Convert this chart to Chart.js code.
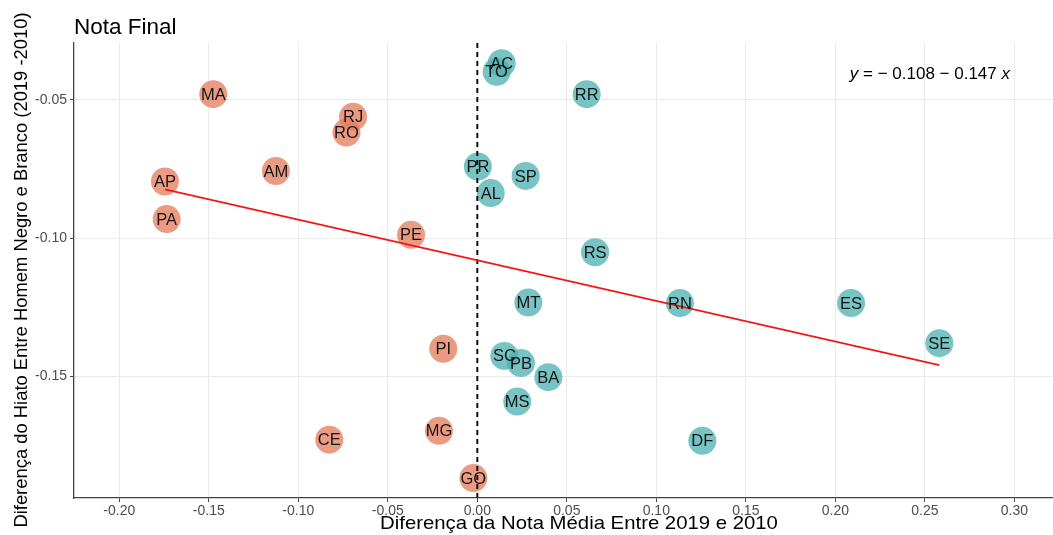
<!DOCTYPE html>
<html>
<head>
<meta charset="utf-8">
<script src="https://cdn.jsdelivr.net/npm/chart.js@4.4.1/dist/chart.umd.min.js"></script>
<style>
  html, body { margin: 0; padding: 0; background: #ffffff; }
  canvas { display: block; }
</style>
</head>
<body>
<canvas id="chart" width="1053" height="535"></canvas>
<script>
// State codes and their values
const states = ['AC','TO','RR','MA','RJ','RO','AM','AP','PA','PR','SP','AL','PE','RS',
                'MT','RN','ES','SE','PI','SC','PB','BA','MS','MG','CE','GO','DF'];
// Difference in mean score between 2019 and 2010
const scoreDiff = [0.0136, 0.0108, 0.0611, -0.1475, -0.0694, -0.0731, -0.1125, -0.1745, -0.1735,
                   0.0003, 0.0270, 0.0075, -0.0370, 0.0658, 0.0285, 0.1132, 0.2088, 0.2581,
                   -0.0190, 0.0151, 0.0244, 0.0397, 0.0223, -0.0214, -0.0827, -0.0022, 0.1257];
// Difference in the Black/White male gap (2019 - 2010)
const gapDiff = [-0.0367, -0.0398, -0.0479, -0.0479, -0.0561, -0.0618, -0.0757, -0.0795, -0.0931,
                 -0.0741, -0.0775, -0.0837, -0.0988, -0.1051, -0.1233, -0.1235, -0.1235, -0.1380,
                 -0.1400, -0.1426, -0.1452, -0.1503, -0.1591, -0.1697, -0.1729, -0.1868, -0.1733];

// Fitted line coefficients
const intercept = -0.108;
const slope = -0.147;

// Axis tick values
const xTicks = [-0.20, -0.15, -0.10, -0.05, 0.00, 0.05, 0.10, 0.15, 0.20, 0.25, 0.30];
const yTicks = [-0.05, -0.10, -0.15];

const X_MIN = -0.2253, X_MAX = 0.3216;
const Y_MIN = -0.1940, Y_MAX = -0.0294;

const FONT = '"Liberation Sans", Arial, Helvetica, sans-serif';
const ORANGE = 'rgba(230, 124, 92, 0.76)';
const TEAL = 'rgba(78, 176, 176, 0.76)';

const points = states.map((s, i) => ({ x: scoreDiff[i], y: gapDiff[i] }));
const pointColors = scoreDiff.map(v => (v < 0 ? ORANGE : TEAL));

const xLo = Math.min(...scoreDiff), xHi = Math.max(...scoreDiff);
const fitLine = [
  { x: xLo, y: intercept + slope * xLo },
  { x: xHi, y: intercept + slope * xHi }
];
const zeroLine = [{ x: 0, y: Y_MAX }, { x: 0, y: Y_MIN }];

// Text drawn on top: point labels, title, axis titles and the fit equation
const textPlugin = {
  id: 'textPlugin',
  afterDatasetsDraw(chart) {
    const ctx = chart.ctx;
    const meta = chart.getDatasetMeta(2);
    ctx.save();
    ctx.font = '16.5px ' + FONT;
    ctx.fillStyle = '#151515';
    ctx.textAlign = 'center';
    ctx.textBaseline = 'middle';
    meta.data.forEach((el, i) => {
      ctx.fillText(states[i], el.x, el.y + 1);
    });
    ctx.restore();
  },
  afterDraw(chart) {
    const ctx = chart.ctx;
    ctx.save();
    ctx.fillStyle = '#000';
    ctx.textBaseline = 'alphabetic';

    ctx.font = '22.5px ' + FONT;
    ctx.textAlign = 'left';
    ctx.fillText('Nota Final', 74, 34);

    ctx.save();
    ctx.translate(579, 529);
    ctx.scale(1.07, 1);
    ctx.font = '19px ' + FONT;
    ctx.textAlign = 'center';
    ctx.fillText('Diferença da Nota Média Entre 2019 e 2010', 0, 0);
    ctx.restore();

    ctx.save();
    ctx.translate(27, 270);
    ctx.rotate(-Math.PI / 2);
    ctx.font = '18.4px ' + FONT;
    ctx.textAlign = 'center';
    ctx.fillText('Diferença do Hiato Entre Homem Negro e Branco (2019 -2010)', 0, 0);
    ctx.restore();

    // Regression equation
    const parts = [
      { t: 'y', f: 'italic 17px ' + FONT },
      { t: ' = \u2212 ' + Math.abs(intercept).toFixed(3) + ' \u2212 ' + Math.abs(slope).toFixed(3) + ' ', f: '17px ' + FONT },
      { t: 'x', f: 'italic 17px ' + FONT }
    ];
    let total = 0;
    parts.forEach(p => { ctx.font = p.f; p.w = ctx.measureText(p.t).width; total += p.w; });
    let cx = 1010 - total;
    ctx.textAlign = 'left';
    parts.forEach(p => { ctx.font = p.f; ctx.fillText(p.t, cx, 79); cx += p.w; });
    ctx.restore();
  }
};

new Chart(document.getElementById('chart'), {
  type: 'scatter',
  data: {
    datasets: [
      {
        type: 'line',
        data: zeroLine,
        borderColor: '#111',
        borderWidth: 2,
        borderDash: [5, 4],
        pointRadius: 0,
        fill: false,
        order: 1
      },
      {
        type: 'line',
        data: fitLine,
        borderColor: '#F01818',
        borderWidth: 1.6,
        pointRadius: 0,
        fill: false,
        order: 0
      },
      {
        data: points,
        backgroundColor: pointColors,
        borderWidth: 0,
        pointRadius: 14,
        pointHoverRadius: 14,
        order: 2
      }
    ]
  },
  options: {
    responsive: false,
    devicePixelRatio: 1,
    animation: false,
    layout: { autoPadding: false, padding: { top: 43, right: 0, bottom: 0, left: 0 } },
    plugins: {
      legend: { display: false },
      tooltip: { enabled: false },
      title: { display: false }
    },
    scales: {
      x: {
        type: 'linear',
        min: X_MIN,
        max: X_MAX,
        afterBuildTicks: s => { s.ticks = xTicks.map(v => ({ value: v })); },
        afterFit: s => { s.height = 37; s.paddingLeft = 0; s.paddingRight = 0; },
        grid: { color: '#EBEBEB', lineWidth: 1, tickColor: '#444', tickLength: 4 },
        border: { display: true, color: '#444', width: 1.3 },
        ticks: {
          font: { family: FONT, size: 14 },
          color: '#4D4D4D',
          padding: 1,
          maxRotation: 0,
          autoSkip: false,
          callback: v => Number(v).toFixed(2)
        }
      },
      y: {
        type: 'linear',
        min: Y_MIN,
        max: Y_MAX,
        afterBuildTicks: s => { s.ticks = yTicks.map(v => ({ value: v })); },
        afterFit: s => { s.width = 74; s.paddingTop = 0; s.paddingBottom = 0; },
        grid: { color: '#EBEBEB', lineWidth: 1, tickColor: '#444', tickLength: 4 },
        border: { display: true, color: '#444', width: 1.3 },
        ticks: {
          font: { family: FONT, size: 14 },
          color: '#4D4D4D',
          padding: 3,
          autoSkip: false,
          callback: v => Number(v).toFixed(2)
        }
      }
    }
  },
  plugins: [textPlugin]
});
</script>
</body>
</html>
